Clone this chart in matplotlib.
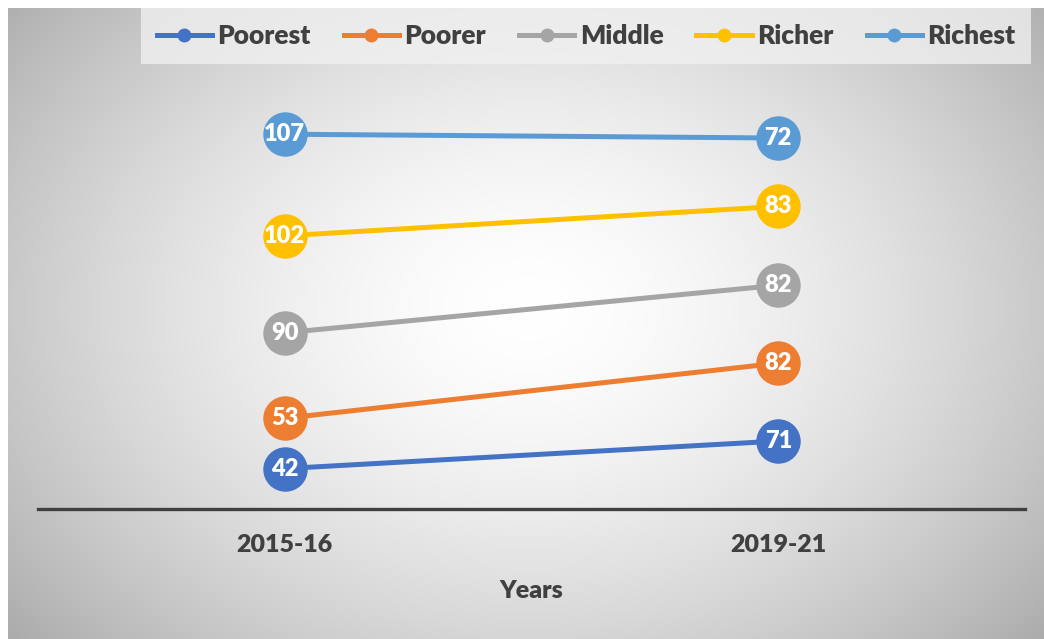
import matplotlib.pyplot as plt
import numpy as np
from matplotlib.lines import Line2D

YEARS = ["2015-16", "2019-21"]
GROUPS = ["Poorest", "Poorer", "Middle", "Richer", "Richest"]
POOREST = [42, 71]
POORER = [53, 82]
MIDDLE = [90, 82]
RICHER = [102, 83]
RICHEST = [107, 72]
COLORS = ["#4472C4", "#ED7D31", "#A5A5A5", "#FFC000", "#5B9BD5"]

TEXT = "#404040"
plt.rcParams["font.family"] = ["Lato", "DejaVu Sans"]
plt.rcParams["font.weight"] = "bold"

W, H = 1044, 639
fig = plt.figure(figsize=(W / 100, H / 100), dpi=100)

# radial grey gradient background of the chart area
bg = fig.add_axes([8 / W, 0, 1 - 8 / W, (H - 8) / H])
yy, xx = np.mgrid[0:631, 0:1036]
cx, cy = 520, 300
r = np.sqrt(((xx - cx) / 560.0) ** 2 + ((yy - cy) / 420.0) ** 2)
shade = 1.0 - 0.24 * np.clip(r, 0, 1.3) ** 1.6
bg.imshow(np.dstack([shade] * 3), aspect="auto", interpolation="bilinear")
bg.axis("off")

ax = fig.add_axes([38 / W, (H - 508.5) / H, 987 / W, 380 / H])
ax.patch.set_visible(False)
ax.set_xlim(-0.5, 1.5)
ax.set_ylim(0, 400)

series = [POOREST, POORER, MIDDLE, RICHER, RICHEST]
stacked = np.cumsum(np.array(series, dtype=float), axis=0)
x = np.arange(len(YEARS))
for vals, cum, color in zip(series, stacked, COLORS):
    ax.plot(x, cum, color=color, lw=3.6, marker="o", ms=32,
            markeredgewidth=0, clip_on=False, zorder=3)
    for xi, yi, v in zip(x, cum, vals):
        ax.text(xi, yi, str(v), ha="center", va="center", color="white",
                fontsize=17, fontweight="heavy", zorder=4)

for side in ["top", "left", "right"]:
    ax.spines[side].set_visible(False)
ax.spines["bottom"].set_color(TEXT)
ax.spines["bottom"].set_linewidth(2.4)
ax.set_yticks([])
ax.set_xticks(x)
ax.set_xticklabels(YEARS, fontsize=18, fontweight="heavy", color=TEXT)
ax.tick_params(axis="x", length=0, pad=18)
ax.set_xlabel("Years", fontsize=18, fontweight="heavy", color=TEXT)
ax.xaxis.set_label_coords(0.5, -0.217)
ax.xaxis.label.set_va("center")

handles = [Line2D([0], [0], color=c, lw=3.6, marker="o", ms=9) for c in COLORS]
leg = fig.legend(handles, GROUPS, loc="center", ncol=5,
                 bbox_to_anchor=(586 / W, 1 - 36 / H), frameon=True,
                 fancybox=False, handlelength=2.1, handletextpad=0.2,
                 columnspacing=1.25, borderpad=0.6,
                 prop={"size": 19, "weight": "heavy"})
frame = leg.get_frame()
frame.set_facecolor("#f2f2f2")
frame.set_alpha(0.75)
frame.set_edgecolor("none")
for t in leg.get_texts():
    t.set_color(TEXT)

fig.savefig("out.png", dpi=100)
